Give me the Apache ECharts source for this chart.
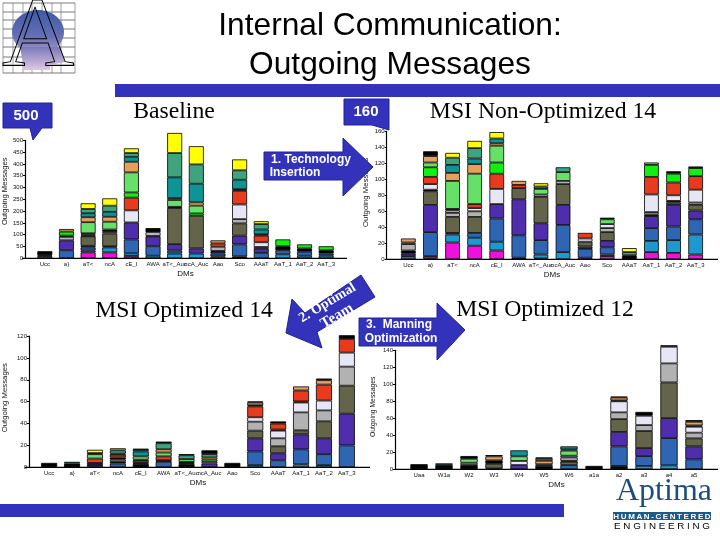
<!DOCTYPE html>
<html><head><meta charset="utf-8">
<style>html,body{margin:0;padding:0;background:#fff}#c{width:720px;height:540px}</style>
<script src="https://cdn.jsdelivr.net/npm/echarts@6/dist/echarts.min.js"></script>
</head><body><div id="c"></div>
<script>
const layerOrder = ['ink0','mag','cyan','blue','purple','olive','ink1','gray','lav','ink2','red','ink3','bright','mint','tan','teal','sea','yellow','ink4'];
const layerColors = {ink0:'#000',mag:'#ee10dc',cyan:'#1f98cf',blue:'#2f66b4',purple:'#4f2eae',olive:'#64644a',ink1:'#000',gray:'#b2b2b2',lav:'#e6e6f4',ink2:'#000',red:'#e83a1c',ink3:'#000',bright:'#10f010',mint:'#66e066',tan:'#e5a05c',teal:'#0e9494',sea:'#3fa37e',yellow:'#ffff00',ink4:'#000'};

const dmLabels = ['Ucc','a}','aT<','ncA','cE_I','AWA','aT<_Auc','ncA_Auc','Aao','Sco','AAaT','AaT_1','AaT_2','AaT_3'];
const dmLabels12 = ['Uaa','W1a','W2','W3','W4','W5','W6','a1a','a2','a3','a4','a5'];

const baselineBars = [
 {blue:9,gray:4,ink2:17},
 {blue:34,purple:42,gray:15,ink2:5,bright:17,tan:11},
 {mag:25,cyan:8,blue:13,purple:7,olive:40,gray:3,lav:5,red:5,mint:47,tan:21,teal:17,sea:18,yellow:24},
 {mag:25,cyan:21,blue:5,olive:54,gray:7,ink2:10,mint:33,tan:21,teal:21,sea:26,yellow:31},
 {mag:10,cyan:11,blue:59,purple:72,lav:51,red:54,bright:22,mint:85,tan:45,teal:21,sea:16,yellow:20},
 {cyan:11,blue:40,purple:42,ink1:3,lav:14,ink2:18},
 {cyan:20,blue:13,purple:27,olive:153,ink2:5,mint:29,tan:8,teal:88,sea:103,yellow:85},
 {cyan:20,purple:22,olive:138,bright:10,mint:33,tan:14,teal:79,sea:82,yellow:77},
 {mag:8,blue:12,purple:8,ink1:3,gray:18,red:14,tan:13},
 {ink0:8,blue:51,purple:37,olive:52,gray:18,lav:62,red:58,ink3:7,teal:40,sea:40,yellow:46},
 {blue:23,purple:17,olive:8,lav:20,red:28,ink3:6,teal:20,sea:23,yellow:12},
 {cyan:17,blue:17,ink3:17,bright:29},
 {cyan:11,blue:17,ink3:14,bright:17},
 {cyan:11,blue:9,ink3:14,bright:17}
];
const nonOptimizedBars = [
 {blue:4,purple:3,ink1:4,gray:8,lav:2,tan:5},
 {mag:3,ink0:1,blue:30,purple:34,olive:17,ink1:2,lav:7,red:9,bright:12,mint:6,tan:8,ink4:6},
 {mag:21,cyan:10,blue:2,olive:20,gray:5,lav:3,ink2:2,mint:35,tan:10,teal:10,sea:9,yellow:6},
 {mag:17,cyan:10,blue:6,olive:20,gray:7,lav:4,red:5,mint:38,tan:12,teal:7,sea:13,yellow:9},
 {mag:11,cyan:11,blue:29,purple:18,lav:19,red:19,bright:14,mint:21,tan:3,teal:6,yellow:8},
 {ink0:2,blue:28,purple:45,olive:14,red:4,tan:5},
 {mag:1,cyan:5,blue:18,purple:21,olive:33,gray:3,mint:7,teal:3,yellow:4},
 {cyan:9,blue:34,purple:25,olive:26,gray:4,mint:11,sea:6},
 {mag:2,blue:11,purple:3,olive:6,lav:4,red:7},
 {mag:4,cyan:2,blue:9,purple:8,olive:11,gray:5,lav:5,mint:6,ink4:2},
 {ink0:5,sea:4,yellow:5},
 {mag:9,cyan:14,blue:16,purple:15,ink1:2,gray:3,lav:22,red:22,bright:15,mint:3},
 {mag:8,cyan:16,blue:17,purple:27,olive:3,ink1:2,lav:7,red:16,bright:11,ink4:3},
 {mag:6,cyan:25,blue:19,purple:11,olive:7,gray:3,lav:16,red:17,bright:10,ink4:2}
];
const optimized14Bars = [
 {ink0:4},
 {ink0:3.5,sea:1.5},
 {purple:2,ink1:2,red:4,mint:4,sea:1,yellow:3},
 {blue:3.5,ink1:1.5,gray:2,ink2:2,red:2.5,ink3:1,sea:3,yellow:1.9},
 {ink0:3,lav:1,red:2,ink3:1,mint:3,teal:4.5,sea:1.5,ink4:1},
 {blue:5,ink1:1.5,red:3.5,mint:3.5,tan:3,sea:5.5,ink4:1.5},
 {ink0:3,lav:1,mint:2.5,ink3:1,sea:3.5,ink4:1},
 {purple:3.5,lav:1.5,mint:2,tan:2,sea:3,ink4:3.5},
 {ink0:4},
 {cyan:2,blue:12.5,purple:12,olive:7,gray:8.2,lav:4,red:10,ink3:1,tan:2.5,ink4:1},
 {blue:6.4,purple:6.4,olive:6.4,gray:7.3,lav:7,ink2:1,red:5.4,ink3:2},
 {cyan:2.7,blue:13.7,purple:13.7,olive:3.7,gray:16.4,lav:9,ink2:1,red:10,tan:3.7},
 {cyan:2,blue:10,purple:14.5,olive:15.5,gray:10,lav:9,red:14.6,tan:4,ink4:1.5},
 {blue:20,purple:29,olive:25.6,gray:17.4,lav:12.8,red:12.5,ink3:3.4}
];
const optimized12Bars = [
 {ink0:6},
 {ink0:5,teal:2},
 {ink0:5,gray:2.7,mint:4.7,ink4:3.2},
 {ink0:1,olive:5.5,ink1:4,tan:4.7,ink4:1.5},
 {purple:5,lav:4.8,mint:5.5,teal:7},
 {ink0:4,gray:2,tan:4,sea:2.5,ink4:1.5},
 {blue:5,olive:4,ink1:1,gray:4,lav:2,mint:6,tan:1.5,teal:3.5},
 {ink0:4},
 {ink0:4,blue:23,purple:17,olive:15,gray:8,lav:13,ink2:1,tan:3.5,ink4:1},
 {cyan:4,blue:11.5,purple:9.5,olive:20,gray:7,lav:11,ink4:4.5},
 {cyan:4.7,blue:32,purple:23.5,olive:42,gray:22.4,lav:19.6,ink4:1.7},
 {blue:11.7,purple:15.3,olive:9.4,gray:6.7,lav:7,ink2:1.5,tan:4.3,ink4:2}
];

const tickStepA = 50, tickStepB = 20;
const axisMaxima = [500,160,120,140];
const axisSteps = [tickStepA,tickStepB,tickStepB,tickStepB];

const panels = [
 {bars:baselineBars,cats:dmLabels,left:31,width:306,top:140.3,height:118,off:9,nameGap:16,xEnd:347,bw:15,up:16,nameSize:7.6},
 {bars:nonOptimizedBars,cats:dmLabels,left:397.3,width:309.4,top:131.3,height:128,off:10.6,nameGap:17,xEnd:718,bw:14.7,up:6,nameSize:7.8},
 {bars:optimized14Bars,cats:dmLabels,left:33.7,width:324.6,top:336,height:131.3,off:8.7,nameGap:20,xEnd:370,bw:16,up:8,nameSize:7.8},
 {bars:optimized12Bars,cats:dmLabels12,left:406.5,width:300,top:350.3,height:119,off:11.5,nameGap:18,xEnd:718,bw:17.3,up:6,nameSize:6.8}
];
const lblFont = {fontFamily:'Liberation Sans',fontSize:6,color:'#111'};
const inkLine = {lineStyle:{color:'#000',width:1.2}};
const grid=[],xAxis=[],yAxis=[],series=[],g=[];
panels.forEach((p,i)=>{
 grid.push({left:p.left,top:p.top,width:p.width,height:p.height});
 xAxis.push({type:'category',gridIndex:i,data:p.cats,axisLine:inkLine,axisTick:{show:false},
   axisLabel:Object.assign({interval:0,margin:3,hideOverlap:false},lblFont),
   name:'DMs',nameLocation:'middle',nameGap:11,nameTextStyle:{fontFamily:'Liberation Sans',fontSize:8,color:'#111'}});
 yAxis.push({type:'value',gridIndex:i,min:0,max:axisMaxima[i],interval:axisSteps[i],offset:p.off,
   axisLine:Object.assign({show:true},inkLine),axisTick:{show:true,length:2,lineStyle:{color:'#000'}},
   axisLabel:Object.assign({margin:2},lblFont),splitLine:{show:false},
   name:'Outgoing Messages',nameLocation:'middle',nameGap:p.nameGap,
   nameTextStyle:{fontFamily:'Liberation Sans',fontSize:p.nameSize,color:'#111',padding:[0,0,0,p.up]}});
 layerOrder.forEach(k=>{
  const vals=p.bars.map(b=>b[k]?b[k]:null);
  if(vals.every(v=>v===null))return;
  series.push({type:'bar',xAxisIndex:i,yAxisIndex:i,stack:'p'+i,name:k,data:vals,barWidth:p.bw,clip:false,animation:false,silent:true,
    itemStyle:{color:layerColors[k],borderColor:'#000',borderWidth:0.8}});
 });
 // extends the baseline to the y axis and to the panel's right end, as in the reference
 g.push({type:'line',shape:{x1:p.left-p.off,y1:p.top+p.height,x2:p.xEnd,y2:p.top+p.height},style:{stroke:'#000',lineWidth:1.2},z:5});
});

const BLUE='#3232bb';
const T=(text,x,y,font,fill,extra)=>Object.assign({type:'text',x,y,z:20,style:{text,x:0,y:0,font,fill,textAlign:'center',textVerticalAlign:'middle'}},extra||{});
const P=(pts)=>({type:'polygon',z:15,shape:{points:pts},style:{fill:BLUE,stroke:'#22229a',lineWidth:1,lineJoin:'miter'}});

// bands
g.push({type:'rect',shape:{x:115,y:84,width:605,height:13},style:{fill:BLUE},z:1});
g.push({type:'rect',shape:{x:0,y:504,width:564,height:13},style:{fill:BLUE},z:1});
// title
g.push(T('Internal Communication:',390,26,'31.7px "Liberation Sans"','#000'));
g.push(T('Outgoing Messages',390,65,'31.7px "Liberation Sans"','#000'));
// panel titles
g.push(T('Baseline',174,112,'23.7px "Liberation Serif"','#000'));
g.push(T('MSI Non-Optimized 14',543,112,'23.7px "Liberation Serif"','#000'));
g.push(T('MSI Optimized 14',184,311,'23.7px "Liberation Serif"','#000'));
g.push(T('MSI Optimized 12',545,310,'23.7px "Liberation Serif"','#000'));
// callouts
g.push(P([[3,103],[52,103],[52,128],[42,128],[33,140],[30,128],[3,128]]));
g.push(T('500',26,116,'bold 15px "Liberation Sans"','#fff'));
g.push(P([[344,99],[389,99],[389,125],[389,130],[372,125],[344,125]]));
g.push(T('160',366,112,'bold 15px "Liberation Sans"','#fff'));
// arrows
g.push(P([[264,152],[343,152],[343,138],[373,167],[343,196],[343,180],[264,180]]));
g.push(T('1. Technology',311,160,'bold 12px "Liberation Sans"','#fff'));
g.push(T('Insertion',295,173,'bold 12px "Liberation Sans"','#fff'));
g.push(P([[361,275],[375,297],[317,332],[322,348],[286,333],[292,299],[305,313]]));
g.push(T('2. Optimal',327.5,303,'bold 14px "Liberation Serif"','#fff',{rotation:0.54}));
g.push(T('Team',337,316,'bold 15px "Liberation Serif"','#fff',{rotation:0.54}));
g.push(P([[359,318],[437,318],[437,303],[465,330],[437,360],[437,346],[359,346]]));
g.push(T('3.  Manning',399,325,'bold 12px "Liberation Sans"','#fff'));
g.push(T('Optimization',401,339,'bold 12px "Liberation Sans"','#fff'));
// logo
const logoRows=[3,12,20,29,38,47,57,65,73];
const logoCols=[3,13,23,32,42,52,61,75];
logoRows.forEach(y=>g.push({type:'line',z:2,shape:{x1:3,y1:y,x2:75,y2:y},style:{stroke:'#444',lineWidth:0.7}}));
logoCols.forEach(x=>g.push({type:'line',z:2,shape:{x1:x,y1:3,x2:x,y2:73},style:{stroke:'#777',lineWidth:0.7}}));
const headFill=new echarts.graphic.LinearGradient(0,0,0,1,[{offset:0,color:'#3d5aa5'},{offset:0.6,color:'#6670b5'},{offset:1,color:'#a79acb'}]);
g.push({type:'ellipse',z:3,shape:{cx:38,cy:32,rx:26,ry:22},style:{fill:headFill}});
g.push({type:'polygon',z:3,shape:{points:[[20,47],[60,47],[65,62],[50,65],[50,70],[24,70]]},style:{fill:new echarts.graphic.LinearGradient(0,0,0,1,[{offset:0,color:'#7a78bb'},{offset:1,color:'#e0c8e0'}])}});
g.push({type:'text',z:4,x:38,y:40,style:{text:'A',x:0,y:0,font:'100px "Liberation Serif"',fill:'rgba(0,0,0,0)',stroke:'#000',lineWidth:1,textAlign:'center',textVerticalAlign:'middle'}});
// Aptima mark
g.push(T('Aptima',664,492,'32px "Liberation Serif"','#1b4e80'));
g.push({type:'rect',z:2,shape:{x:613,y:512,width:98,height:8},style:{fill:'#1d5a88'}});
g.push(T('H\u2009U\u2009M\u2009A\u2009N\u2009-\u2009C\u2009E\u2009N\u2009T\u2009E\u2009R\u2009E\u2009D',662,516.5,'bold 8px "Liberation Sans"','#fff'));
g.push(T('E N G I N E E R I N G',662,526,'9.8px "Liberation Sans"','#000'));

const chart=echarts.init(document.getElementById('c'),null,{renderer:'canvas'});
chart.setOption({animation:false,backgroundColor:'#fff',grid,xAxis,yAxis,series,graphic:{elements:g}});
</script></body></html>
